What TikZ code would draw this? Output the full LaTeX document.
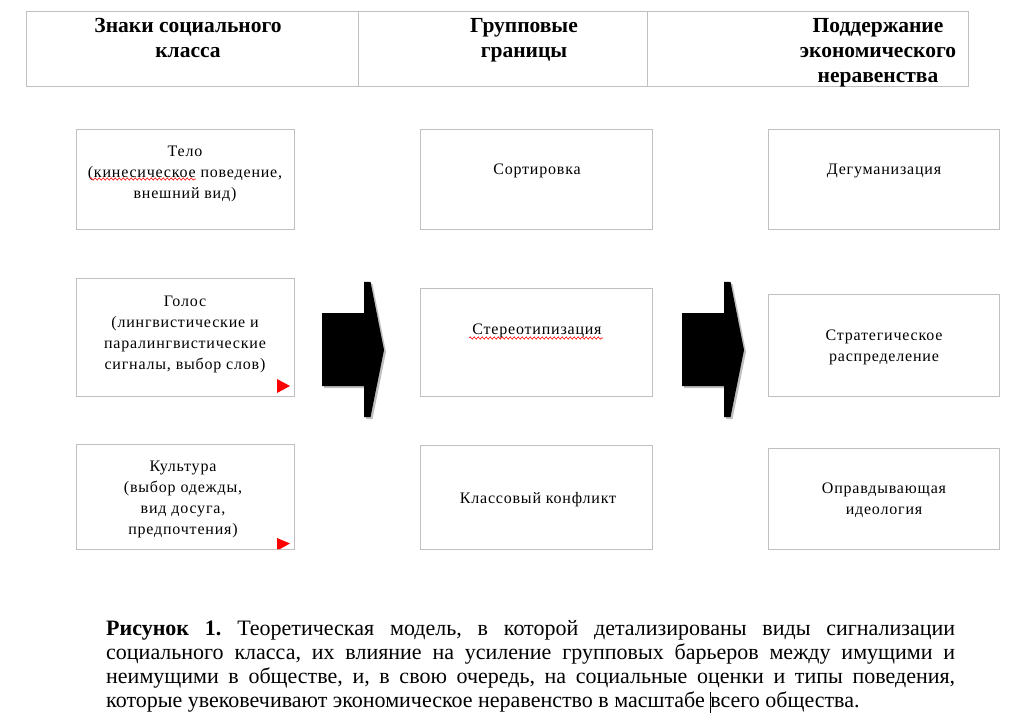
\documentclass[tikz,border=0pt]{standalone}
\usepackage{fontspec}
\setmainfont{Liberation Serif}
\newfontfamily\capfont{Liberation Serif}
\newfontfamily\boxfont[LetterSpace=5]{Liberation Serif}
\usetikzlibrary{decorations.pathmorphing}
\definecolor{frame}{RGB}{192,192,192}
\definecolor{shadowgray}{RGB}{190,190,190}
\tikzset{
  boxframe/.style={draw=frame, line width=1pt},
  headtext/.style={font=\bfseries\fontsize{21.5}{25}\selectfont, align=center, inner sep=0pt, anchor=north},
  boxtext/.style={font=\boxfont\fontsize{16}{21}\selectfont, align=center, inner sep=0pt, anchor=north},
  blockarrow/.style={fill=black},
  arrowshadow/.style={fill=shadowgray},
  marker/.style={fill=red},
  spell/.style={draw=red, line width=0.6pt, decorate, decoration={snake, segment length=4pt, amplitude=1.1pt}}
}
\begin{document}
\begin{tikzpicture}[x=1pt,y=-1pt]
\useasboundingbox (0,0) rectangle (1034,722);
\fill[white] (0,0) rectangle (1034,722);
% header table
\draw[boxframe] (26,12) rectangle (968,87);
\draw[boxframe] (358,12) -- (358,87);
\draw[boxframe] (647,12) -- (647,87);
\node[headtext] (h1) at (188,18) {Знаки социального\\класса};
\node[headtext] (h2) at (524,18) {Групповые\\границы};
\node[headtext] (h3) at (878,18) {Поддержание\\экономического\\неравенства};
% boxes
\node[boxframe, minimum width=218pt, minimum height=100pt] (l1) at (185,180) {};
\node[boxframe, minimum width=218pt, minimum height=117pt] (l2) at (185,337.5) {};
\node[boxframe, minimum width=218pt, minimum height=105pt] (l3) at (185,496.5) {};
\node[boxframe, minimum width=232pt, minimum height=100pt] (m1) at (536,180) {};
\node[boxframe, minimum width=232pt, minimum height=107pt] (m2) at (536,342.5) {};
\node[boxframe, minimum width=232pt, minimum height=104pt] (m3) at (536,497) {};
\node[boxframe, minimum width=231pt, minimum height=100pt] (r1) at (883.5,180) {};
\node[boxframe, minimum width=231pt, minimum height=101pt] (r2) at (883.5,345.5) {};
\node[boxframe, minimum width=231pt, minimum height=101pt] (r3) at (883.5,498.5) {};
% box texts
\node[boxtext] (t1) at (185,145.5) {Тело\\(кинесическое поведение,\\внешний вид)};
\node[boxtext] (t2) at (185,295.5) {Голос\\(лингвистические и\\паралингвистические\\сигналы, выбор слов)};
\node[boxtext] (t3) at (183,460.5) {Культура\\(выбор одежды,\\вид досуга,\\предпочтения)};
\node[boxtext] (t4) at (537,163.5) {Сортировка};
\node[boxtext] (t5) at (537,323.5) {Стереотипизация};
\node[boxtext] (t6) at (538,492.5) {Классовый конфликт};
\node[boxtext] (t7) at (884,163.5) {Дегуманизация};
\node[boxtext] (t8) at (884,329.5) {Стратегическое\\распределение};
\node[boxtext] (t9) at (884,482.5) {Оправдывающая\\идеология};
% spell-check marks
\draw[spell] (90,179) -- (196,179);
\draw[spell] (469,338) -- (603,338);
% red markers
\fill[marker] (277,379) -- (290,386) -- (277,393) -- cycle;
\fill[marker] (277,538) -- (290,543.5) -- (280,549) -- (277,549) -- cycle;
% block arrows
\foreach \dx/\nm in {0/a, 360/b} {
  \begin{scope}[xshift=\dx]
  \fill[arrowshadow] (324,315) -- (366,315) -- (366,284) -- (372.5,284) -- (386,352) -- (372.5,419) -- (366,419) -- (366,388) -- (324,388) -- cycle;
  \fill[blockarrow] (322,313) -- (364,313) -- (364,282) -- (370.5,282) -- (384,350) -- (370.5,417) -- (364,417) -- (364,386) -- (322,386) -- cycle;
  \end{scope}
}
% caption
\node[inner sep=0pt, anchor=north west, text width=849pt, align=justify,
      font=\capfont\fontsize{22}{24}\selectfont] (cap) at (106,620)
  {\frenchspacing\textbf{Рисунок 1.} Теоретическая модель, в которой детализированы виды сигнализации\linebreak
   социального класса, их влияние на усиление групповых барьеров между имущими и\linebreak
   неимущими в обществе, и, в свою очередь, на социальные оценки и типы поведения,\linebreak
   которые увековечивают экономическое неравенство в масштабе \makebox[0pt][c]{\rule[-6pt]{1pt}{21pt}}всего общества.};
\end{tikzpicture}
\end{document}
